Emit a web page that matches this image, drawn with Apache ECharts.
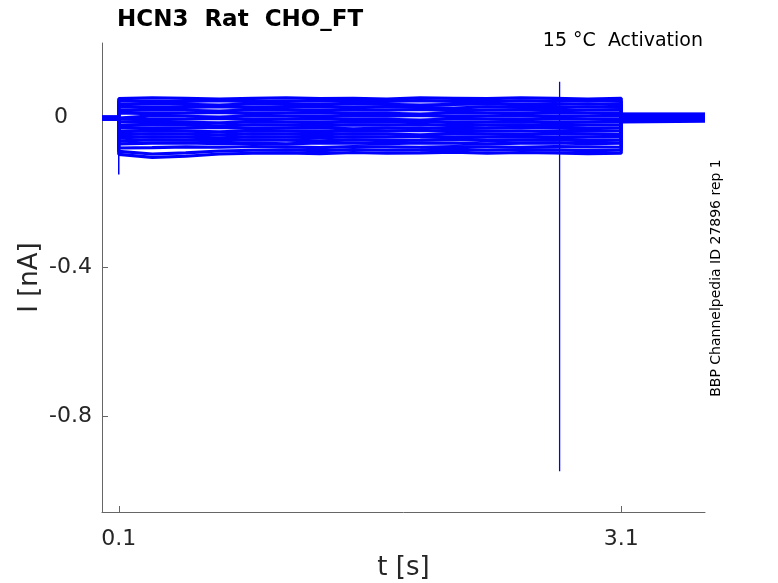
<!DOCTYPE html>
<html>
<head>
<meta charset="utf-8">
<script src="https://cdn.jsdelivr.net/npm/echarts@6/dist/echarts.min.js"></script>
<style>html,body{margin:0;padding:0;background:#fff}#c{width:778px;height:583px}</style>
</head>
<body>
<div id="c"></div>
<script>
// ---- data ----
const xTicks = [0.1, 3.1];
const yTicks = [-0.8, -0.4, 0];
const stepStart = 0.1;
const stepEnd = 3.1;
const tEnd = 3.6;
const T = [0.1,0.3,0.5,0.7,0.9,1.1,1.3,1.5,1.7,1.9,2.1,2.3,2.5,2.7,2.9,3.1];
const tr01 = [0.051,0.053,0.052,0.050,0.052,0.053,0.051,0.052,0.050,0.053,0.052,0.051,0.053,0.052,0.050,0.052];
const tr02 = [0.045,0.043,0.044,0.046,0.043,0.044,0.045,0.043,0.044,0.046,0.044,0.043,0.045,0.044,0.046,0.044];
const tr03 = [0.035,0.037,0.036,0.034,0.037,0.036,0.035,0.037,0.036,0.034,0.036,0.037,0.035,0.036,0.037,0.035];
const tr04 = [0.029,0.027,0.028,0.030,0.027,0.028,0.029,0.027,0.029,0.028,0.026,0.029,0.028,0.027,0.029,0.028];
const tr05 = [0.019,0.021,0.020,0.018,0.021,0.020,0.019,0.021,0.020,0.022,0.019,0.020,0.021,0.019,0.020,0.021];
const tr06 = [0.013,0.011,0.012,0.014,0.011,0.012,0.013,0.011,0.012,0.010,0.013,0.012,0.011,0.013,0.012,0.011];
const tr07 = [0.003,0.005,0.004,0.002,0.005,0.004,0.003,0.005,0.004,0.006,0.003,0.004,0.005,0.003,0.004,0.005];
const tr08 = [-0.003,-0.005,-0.004,-0.002,-0.005,-0.004,-0.003,-0.005,-0.004,-0.006,-0.003,-0.004,-0.005,-0.003,-0.004,-0.005];
const tr09 = [-0.011,-0.013,-0.012,-0.014,-0.011,-0.012,-0.013,-0.011,-0.012,-0.010,-0.013,-0.012,-0.011,-0.013,-0.012,-0.011];
const tr10 = [-0.021,-0.019,-0.020,-0.022,-0.019,-0.020,-0.021,-0.019,-0.020,-0.018,-0.021,-0.020,-0.019,-0.021,-0.020,-0.019];
const tr11 = [-0.027,-0.029,-0.028,-0.026,-0.029,-0.028,-0.027,-0.030,-0.028,-0.027,-0.029,-0.028,-0.026,-0.028,-0.029,-0.027];
const tr12 = [-0.037,-0.035,-0.036,-0.038,-0.035,-0.036,-0.037,-0.035,-0.036,-0.034,-0.037,-0.036,-0.035,-0.037,-0.036,-0.035];
const tr13 = [-0.045,-0.043,-0.044,-0.046,-0.043,-0.044,-0.045,-0.043,-0.044,-0.046,-0.043,-0.044,-0.045,-0.043,-0.044,-0.045];
const tr14 = [-0.053,-0.051,-0.052,-0.054,-0.051,-0.052,-0.053,-0.051,-0.052,-0.050,-0.053,-0.052,-0.051,-0.053,-0.052,-0.051];
const tr15 = [-0.062,-0.059,-0.060,-0.061,-0.059,-0.060,-0.062,-0.059,-0.061,-0.060,-0.058,-0.061,-0.060,-0.059,-0.061,-0.060];
const tr16 = [-0.070,-0.068,-0.067,-0.069,-0.068,-0.070,-0.067,-0.068,-0.069,-0.067,-0.068,-0.070,-0.068,-0.067,-0.069,-0.068];
const tr17 = [-0.081,-0.080,-0.078,-0.079,-0.077,-0.078,-0.080,-0.077,-0.078,-0.079,-0.077,-0.078,-0.079,-0.077,-0.078,-0.079];
const tr18 = [-0.090,-0.097,-0.094,-0.089,-0.087,-0.086,-0.088,-0.085,-0.087,-0.086,-0.084,-0.087,-0.085,-0.086,-0.088,-0.087];
const tr19 = [-0.098,-0.106,-0.103,-0.097,-0.095,-0.094,-0.096,-0.093,-0.095,-0.094,-0.092,-0.095,-0.093,-0.094,-0.096,-0.095];
const traces = [tr01,tr02,tr03,tr04,tr05,tr06,tr07,tr08,tr09,tr10,tr11,tr12,tr13,tr14,tr15,tr16,tr17,tr18,tr19];
const preLevels  = [-0.001,0.001,-0.003,0.000,-0.002,0.002,-0.001,-0.004,0.001,-0.002,0.000,-0.003,0.002,-0.001,-0.002,0.001,-0.004,0.000,-0.001];
const tailLevels = [0.008,-0.004,0.003,-0.007,0.010,0.000,-0.002,0.006,-0.009,0.004,-0.001,0.007,-0.005,0.002,-0.003,0.009,-0.006,0.001,0.005];
const onsetSpikeT = [0.1, 0.1];
const onsetSpikeV = [0.0, -0.152];
const artifactT = [2.732, 2.732];
const artifactV = [0.096, -0.946];

// ---- build series ----
const series = traces.map((tr, i) => {
  const d = [[0, preLevels[i]], [stepStart, preLevels[i]]];
  T.forEach((t, j) => d.push([t, tr[j]]));
  d.push([stepEnd, tailLevels[i]]);
  d.push([tEnd, tailLevels[i]]);
  return {type:'line', data:d, showSymbol:false, symbol:'none', silent:true,
          lineStyle:{color:'#0000ff', width:3.2}, z:2};
});
series.push({type:'line', data:onsetSpikeT.map((t,i)=>[t,onsetSpikeV[i]]), symbol:'none',
  lineStyle:{color:'#0000ff', width:1.5}, z:3});
series.push({type:'line', data:artifactT.map((t,i)=>[t,artifactV[i]]), symbol:'none',
  lineStyle:{color:'#0000ff', width:1.3}, z:3});

const axisCol = '#666666';
const txtCol = '#262626';
const chart = echarts.init(document.getElementById('c'), null, {renderer:'canvas'});
chart.setOption({
  animation:false,
  backgroundColor:'#ffffff',
  textStyle:{fontFamily:'DejaVu Sans'},
  title:{text:'HCN3  Rat  CHO_FT', left:112, top:4,
    textStyle:{fontFamily:'DejaVu Sans', fontWeight:'bold', fontSize:23, color:'#000'}},
  grid:{left:102, right:73, top:43, bottom:71, containLabel:false, outerBoundsMode:'none'},
  xAxis:{type:'value', min:0, max:tEnd,
    name:'t [s]', nameLocation:'middle', nameGap:43, nameMoveOverlap:false,
    nameTextStyle:{fontSize:26, color:txtCol, fontFamily:'DejaVu Sans'},
    axisLine:{show:true, onZero:false, lineStyle:{color:axisCol, width:1}},
    axisTick:{show:true, inside:true, length:6, customValues:xTicks, lineStyle:{color:axisCol}},
    axisLabel:{customValues:xTicks, fontSize:22, color:txtCol, margin:16,
      formatter:v=>v.toFixed(1)},
    splitLine:{show:false}},
  yAxis:{type:'value', min:-1.055, max:0.2,
    name:'I [nA]', nameLocation:'middle', nameGap:59, nameRotate:90, nameMoveOverlap:false,
    nameTextStyle:{fontSize:26, color:txtCol, fontFamily:'DejaVu Sans'},
    axisLine:{show:true, onZero:false, lineStyle:{color:axisCol, width:1}},
    axisTick:{show:true, inside:true, length:6, customValues:yTicks, lineStyle:{color:axisCol}},
    axisLabel:{customValues:yTicks, fontSize:22, color:txtCol, margin:10,
      formatter:v=>(Math.abs(v)<1e-9?'{z|0}':v.toFixed(1)),
      rich:{z:{fontSize:22, color:txtCol, fontFamily:'DejaVu Sans', padding:[0,24,0,0]}}},
    splitLine:{show:false}},
  graphic:[
    {type:'text', x:703, y:41, style:{text:'15 °C  Activation', font:'19px "DejaVu Sans"', fill:'#000', align:'right', verticalAlign:'middle'}},
    {type:'text', x:716, y:278, rotation:Math.PI/2,
      style:{text:'BBP Channelpedia ID 27896 rep 1', font:'14px "DejaVu Sans"', fill:'#000', align:'center', verticalAlign:'middle'}}
  ],
  series:series
});
</script>
</body>
</html>
